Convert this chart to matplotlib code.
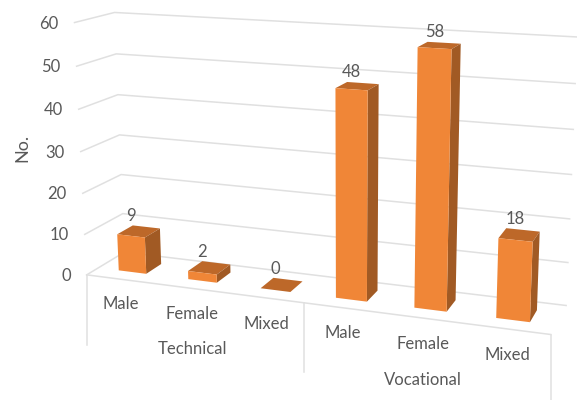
import numpy as np
import matplotlib
matplotlib.use("Agg")
import matplotlib.pyplot as plt

plt.rcParams['font.family'] = ['Lato', 'DejaVu Sans']

groups = ['Technical', 'Vocational']
genders = ['Male', 'Female', 'Mixed', 'Male', 'Female', 'Mixed']
values = [9, 2, 0, 48, 58, 18]
y_ticks = [0, 10, 20, 30, 40, 50, 60]

FRONT = '#F08637'
TOP = '#BD6829'
SIDE = '#A15A24'
GRID = '#E0E0E0'
TEXT = '#595959'

# box corners: (category, depth, value) -> pixel, used to fit the perspective camera
box_3d = [(0, 0, 0), (0, 0, 60), (0, 1, 0), (0, 1, 60), (6, 1, 0), (6, 1, 60), (6, 0, 0)]
box_px = [(87, 274), (74, 23), (124, 253), (115, 12), (566, 305), (577, 37), (551, 335)]


def fit_camera(pts, pix):
    rows, rhs = [], []
    for (u, d, v), (x, y) in zip(pts, pix):
        rows.append([u, d, v, 1, 0, 0, 0, 0, -x * u, -x * d, -x * v])
        rhs.append(x)
        rows.append([0, 0, 0, 0, u, d, v, 1, -y * u, -y * d, -y * v])
        rhs.append(y)
    p = np.linalg.lstsq(np.array(rows, float), np.array(rhs, float), rcond=None)[0]
    return np.append(p, 1).reshape(3, 4)


CAM = fit_camera(box_3d, box_px)


def project(u, d, v):
    x, y, w = CAM @ np.array([u, d, v, 1.0])
    return x / w, y / w


fig = plt.figure(figsize=(5.77, 4), dpi=100)
ax = fig.add_axes([0, 0, 1, 1])
ax.set_xlim(0, 577)
ax.set_ylim(400, 0)
ax.axis('off')

# walls
for t in y_ticks:
    line = [project(0, 0, t), project(0, 1, t), project(6, 1, t)]
    ax.plot(*zip(*line), color=GRID, lw=1.1, zorder=1)
    x0, y0 = project(0, 0, t)
    ax.text(x0 - 16, y0 + 1, str(t), ha='right', va='center', fontsize=12, color=TEXT)

# category axis frame
ax.plot(*zip(project(0, 0, 0), project(6, 0, 0)), color=GRID, lw=1.1, zorder=1)
for u, drop in [(0, 70), (3, 69), (6, 65)]:
    x0, y0 = project(u, 0, 0)
    ax.plot([x0, x0], [y0, y0 + drop], color=GRID, lw=1.1, zorder=1)

# bars
for i, val in enumerate(values):
    u0, u1 = i + 0.3, i + 0.7
    d0, d1 = 0.3, 0.72
    top = [project(u0, d0, val), project(u1, d0, val), project(u1, d1, val), project(u0, d1, val)]
    ax.fill(*zip(*top), color=TOP, lw=0, zorder=3)
    if val > 0:
        side = [project(u1, d0, 0), project(u1, d1, 0), project(u1, d1, val), project(u1, d0, val)]
        ax.fill(*zip(*side), color=SIDE, lw=0, zorder=3)
        front = [project(u0, d0, 0), project(u1, d0, 0), project(u1, d0, val), project(u0, d0, val)]
        ax.fill(*zip(*front), color=FRONT, lw=0, zorder=4)
    # value label sits over the front face, just above the back edge of the top
    lx = project(i + 0.5, d0, val)[0]
    ly = project(i + 0.5, d1, val)[1]
    ax.text(lx, ly - 11, str(val), ha='center', va='center', fontsize=12, color=TEXT, zorder=5)

# category labels
label_x = [121, 192, 266, 343, 423, 507]
label_y = [304, 314, 324, 333, 344, 355]
for name, x, y in zip(genders, label_x, label_y):
    ax.text(x, y, name, ha='center', va='center', fontsize=12, color=TEXT)
for name, x, y in zip(groups, [192, 423], [349, 380]):
    ax.text(x, y, name, ha='center', va='center', fontsize=12, color=TEXT)

ax.text(22, 148, 'No.', rotation=90, ha='center', va='center', fontsize=13, color=TEXT)

fig.savefig('out.png', dpi=100)
